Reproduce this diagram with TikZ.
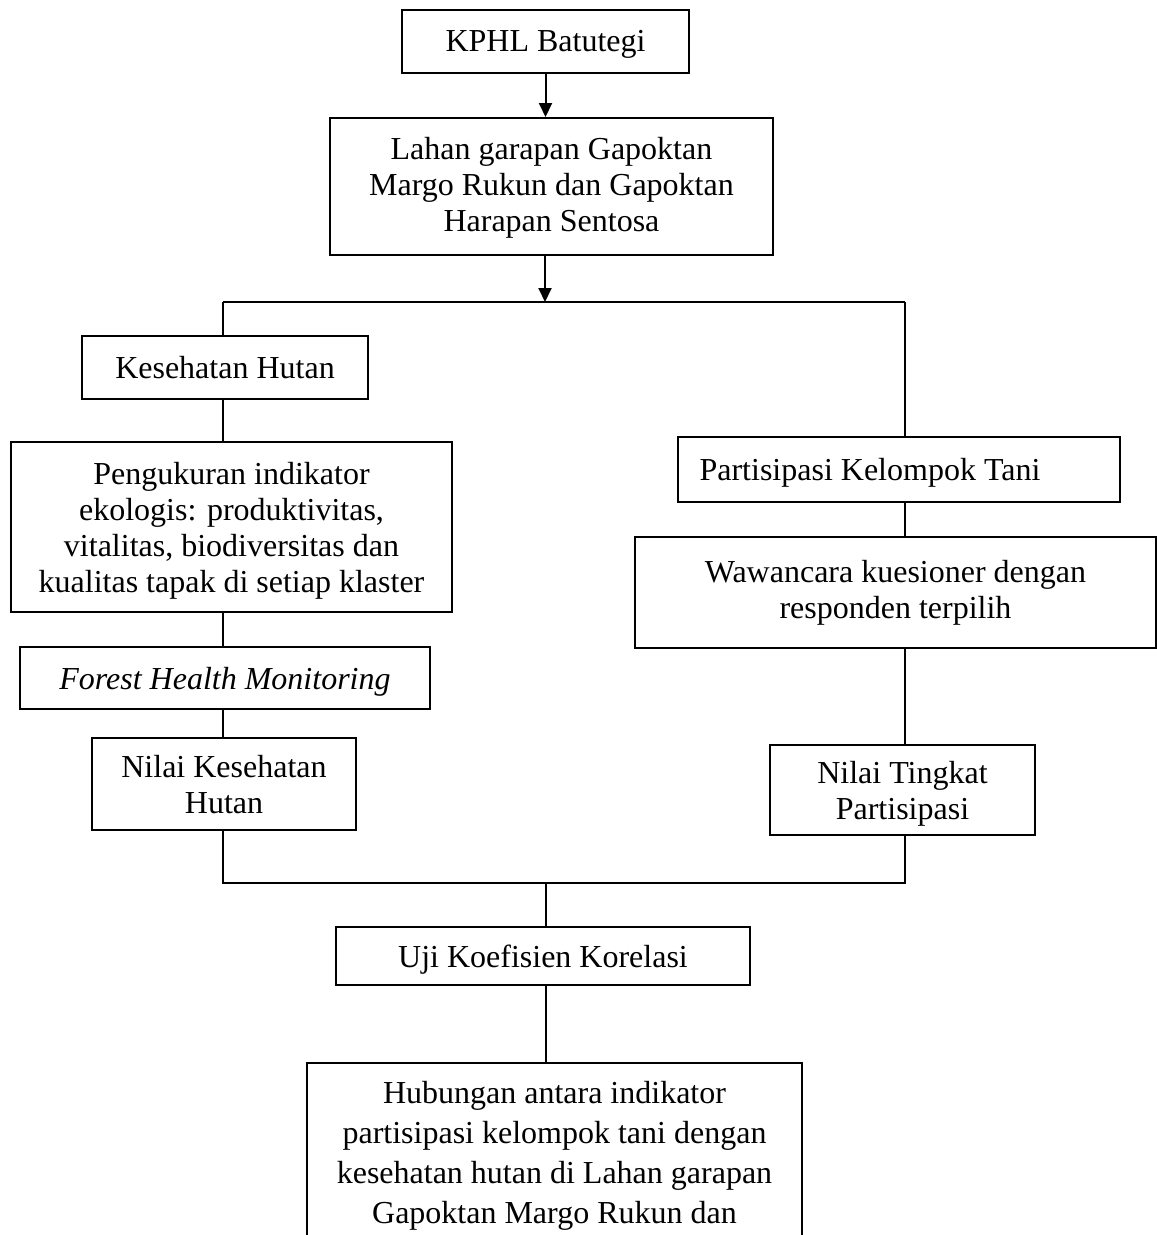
\documentclass[tikz,border=0pt]{standalone}
\usepackage{fontspec}
\setmainfont{Liberation Serif}
\usetikzlibrary{arrows.meta}
\begin{document}
\begin{tikzpicture}[x=1pt,y=-1pt,
  box/.style={draw, line width=2pt, inner sep=0pt, align=center, font=\fontsize{32}{36}\selectfont},
  conn/.style={line width=2pt},
  arr/.style={line width=2pt, -{Triangle[length=14pt,width=13pt]}}]
\useasboundingbox (0,0) rectangle (1157,1235);
% top
\node[box, minimum width=287pt, minimum height=63pt, text depth=1pt] (kphl) at (545.5,41.5) {KPHL Batutegi};
\node[box, minimum width=443pt, minimum height=137pt, text depth=4pt] (lahan) at (551.5,186.5) {Lahan garapan Gapoktan\\Margo Rukun dan Gapoktan\\Harapan Sentosa};
\coordinate (tee) at (545,302);
\coordinate (L) at (223,302);
\coordinate (R) at (905,302);
% left column
\node[box, minimum width=286pt, minimum height=63pt] (kes) at (225,367.5) {Kesehatan Hutan};
\node[box, minimum width=441pt, minimum height=170pt, text depth=-2pt] (peng) at (231.5,527) {Pengukuran indikator\\ekologis: produktivitas,\\vitalitas, biodiversitas dan\\kualitas tapak di setiap klaster};
\node[box, minimum width=410pt, minimum height=62pt, text depth=-1pt, font=\fontsize{32}{36}\selectfont\itshape] (fhm) at (225,678) {Forest Health Monitoring};
\node[box, minimum width=264pt, minimum height=92pt, text depth=-8pt] (nkh) at (224,784) {Nilai Kesehatan\\Hutan};
% right column
\node[box, minimum width=442pt, minimum height=65pt, text depth=-5pt] (part) at (899,469.5) {Partisipasi Kelompok Tani\hspace*{58pt}};
\node[box, minimum width=521pt, minimum height=111pt] (waw) at (895.5,592.5) {Wawancara kuesioner dengan\\responden terpilih};
\node[box, minimum width=265pt, minimum height=90pt, text depth=-8pt] (ntp) at (902.5,790) {Nilai Tingkat\\Partisipasi};
% bottom
\coordinate (B) at (546,883);
\node[box, minimum width=414pt, minimum height=58pt, text depth=-3pt] (uji) at (543,956) {Uji Koefisien Korelasi};
\node[draw, line width=2pt, minimum width=495pt, minimum height=227pt] (hub) at (554.5,1176.5) {};
\node[inner sep=0pt, align=center, anchor=north, font=\fontsize{32}{40}\selectfont] (hubtext) at (554.5,1081) {Hubungan antara indikator\\partisipasi kelompok tani dengan\\kesehatan hutan di Lahan garapan\\Gapoktan Margo Rukun dan};
% connectors
\draw[arr] (kphl.south) -- (kphl.south |- lahan.north);
\draw[arr] (lahan.south -| tee) -- (tee);
\draw[conn] (L) -- (R);
\draw[conn] (L) -- (L |- kes.north);
\draw[conn] (kes.south -| L) -- (L |- peng.north);
\draw[conn] (peng.south -| L) -- (L |- fhm.north);
\draw[conn] (fhm.south -| L) -- (L |- nkh.north);
\draw[conn] (R) -- (R |- part.north);
\draw[conn] (part.south -| R) -- (R |- waw.north);
\draw[conn] (waw.south -| R) -- (R |- ntp.north);
\draw[conn] (nkh.south -| L) |- (B);
\draw[conn] (ntp.south -| R) |- (B);
\draw[conn] (B) -- (B |- uji.north);
\draw[conn] (uji.south -| B) -- (B |- hub.north);
\end{tikzpicture}
\end{document}
